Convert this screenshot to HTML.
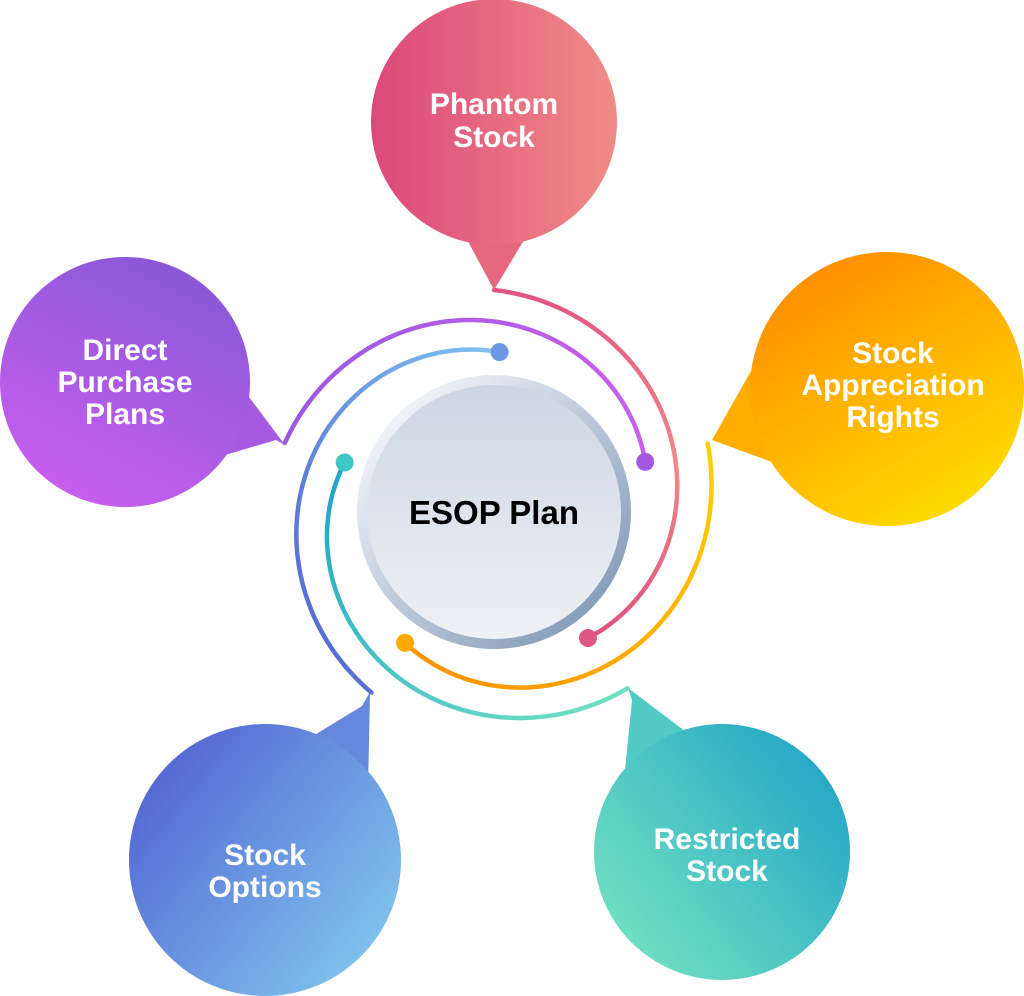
<!DOCTYPE html>
<html><head><meta charset="utf-8">
<style>
html,body{margin:0;padding:0;background:#fff;width:1024px;height:996px;overflow:hidden}
svg{display:block}
text{font-family:"Liberation Sans",sans-serif;font-weight:bold;fill:#fff;font-size:30px;text-anchor:middle}
</style></head><body>
<svg id="s" width="1024" height="996" viewBox="0 0 1024 996">
<defs>
<linearGradient id="gPh" x1="0" y1="0" x2="1" y2="0"><stop offset="0" stop-color="#dc487c"/><stop offset="1" stop-color="#f08c86"/></linearGradient>
<linearGradient id="gDp" x1="0.7" y1="0" x2="0.2" y2="1"><stop offset="0" stop-color="#8858d8"/><stop offset="1" stop-color="#cc5ef0"/></linearGradient>
<linearGradient id="gSa" x1="0.2" y1="0" x2="0.8" y2="1"><stop offset="0" stop-color="#ff8a00"/><stop offset="1" stop-color="#ffe000"/></linearGradient>
<linearGradient id="gSo" x1="0" y1="0.1" x2="1" y2="0.9"><stop offset="0" stop-color="#4f5ed0"/><stop offset="1" stop-color="#84ccf0"/></linearGradient>
<linearGradient id="gRs" x1="0" y1="0.9" x2="1" y2="0.1"><stop offset="0" stop-color="#78e6c0"/><stop offset="1" stop-color="#1ea2c8"/></linearGradient>
<linearGradient id="gRing" x1="0.1" y1="0.1" x2="0.9" y2="0.9"><stop offset="0" stop-color="#f6f8fb"/><stop offset="1" stop-color="#8299b8"/></linearGradient>
<linearGradient id="gIn" x1="0" y1="0" x2="0" y2="1"><stop offset="0" stop-color="#ccd6e3"/><stop offset="1" stop-color="#eef1f5"/></linearGradient>
<linearGradient id="aPh" x1="0" y1="0" x2="0" y2="1"><stop offset="0" stop-color="#e05484"/><stop offset="0.5" stop-color="#f08a88"/><stop offset="1" stop-color="#e05080"/></linearGradient>
<linearGradient id="aDp" x1="0" y1="0" x2="1" y2="0"><stop offset="0" stop-color="#9c58e0"/><stop offset="1" stop-color="#c860ec"/></linearGradient>
<linearGradient id="aSa" x1="1" y1="0" x2="0" y2="1"><stop offset="0" stop-color="#ffd000"/><stop offset="1" stop-color="#ff9000"/></linearGradient>
<linearGradient id="aRs" x1="1" y1="1" x2="0" y2="0"><stop offset="0" stop-color="#74e2c4"/><stop offset="1" stop-color="#1ea4c8"/></linearGradient>
<linearGradient id="aSo" x1="0" y1="1" x2="1" y2="0"><stop offset="0" stop-color="#5060d0"/><stop offset="1" stop-color="#80c4f0"/></linearGradient>
</defs>
<polygon points="462,230 494,290 530,230" fill="#e5687f"/>
<circle cx="494" cy="122" r="123" fill="url(#gPh)"/>
<polygon points="225,455 276,440 285,445 240,385" fill="#a65ae2"/>
<circle cx="125" cy="382" r="125" fill="url(#gDp)"/>
<polygon points="760,355 712,440 780,465" fill="#ffae00"/>
<circle cx="887" cy="389" r="137" fill="url(#gSa)"/>
<polygon points="290,750 362,706 370,692 368,790" fill="#6688dc"/>
<circle cx="265" cy="860" r="136" fill="url(#gSo)"/>
<polygon points="625,770 632,700 628,688 710,750" fill="#52cac6"/>
<circle cx="722" cy="852" r="128" fill="url(#gRs)"/>
<circle cx="494" cy="512" r="137" fill="url(#gRing)"/>
<circle cx="494" cy="512" r="127" fill="url(#gIn)"/>
<g id="arcs"></g>
<text x="494" y="114">Phantom</text><text x="494" y="147">Stock</text>
<text x="125" y="360">Direct</text><text x="125" y="392">Purchase</text><text x="125" y="424">Plans</text>
<text x="893" y="363">Stock</text><text x="893" y="395">Appreciation</text><text x="893" y="427">Rights</text>
<text x="265" y="865">Stock</text><text x="265" y="897">Options</text>
<text x="727" y="849">Restricted</text><text x="727" y="881">Stock</text>
<text x="494" y="524" style="fill:#000;font-size:33px">ESOP Plan</text>
</svg>
<script>
var cx=494,cy=511,g=document.getElementById('arcs'),ns='http://www.w3.org/2000/svg';
function sp(a0,a1,r0,r1,grad,dot){var d='';for(var i=0;i<=120;i++){var t=i/120,a=(a0+(a1-a0)*t)*Math.PI/180,r=r0+(r1-r0)*t;var x=cx+r*Math.cos(a),y=cy+r*Math.sin(a);d+=(i?'L':'M')+x.toFixed(1)+','+y.toFixed(1);}
var p=document.createElementNS(ns,'path');p.setAttribute('d',d);p.setAttribute('fill','none');p.setAttribute('stroke','url(#'+grad+')');p.setAttribute('stroke-width','4.5');p.setAttribute('stroke-linecap','round');g.appendChild(p);
var a=a1*Math.PI/180,c=document.createElementNS(ns,'circle');c.setAttribute('cx',cx+r1*Math.cos(a));c.setAttribute('cy',cy+r1*Math.sin(a));c.setAttribute('r','9');c.setAttribute('fill',dot);g.appendChild(c);}
sp(-90,53.5,221,158,'aPh','#e05684');
sp(198,342,220,159,'aDp','#a458e2');
sp(-17.5,124,224,159,'aSa','#ffa800');
sp(53,198,222,157,'aRs','#40c8c8');
sp(124,272,219,159,'aSo','#6a98e4');
</script>
</body></html>
